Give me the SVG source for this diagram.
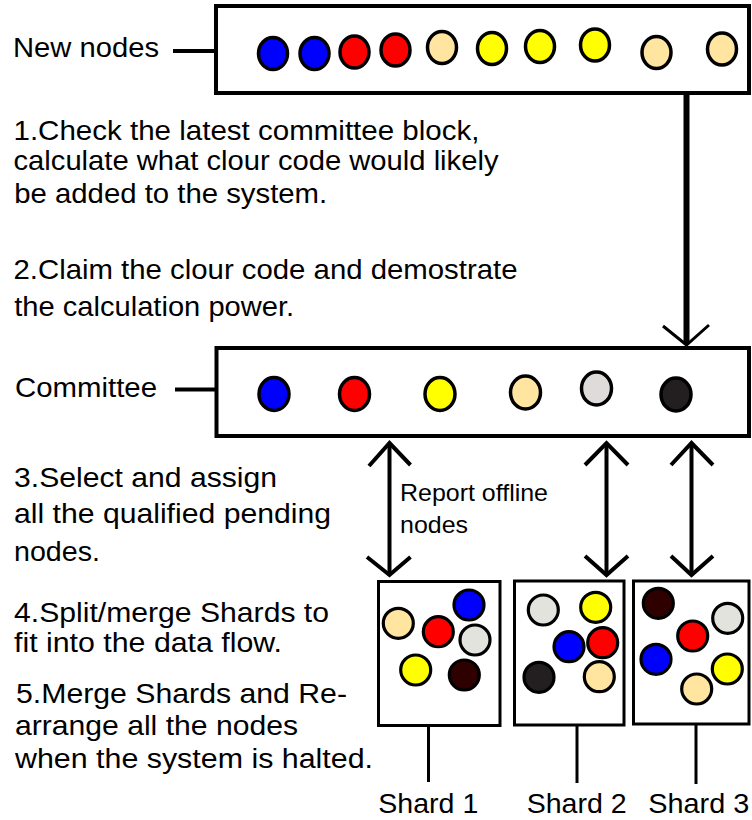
<svg xmlns="http://www.w3.org/2000/svg" width="752" height="820" viewBox="0 0 752 820">
<style>
text{font-family:"Liberation Sans",Arial,sans-serif;font-size:27.5px;fill:#000}
.box{fill:#fff;stroke:#000;stroke-width:4}
.sbox{fill:#fff;stroke:#000;stroke-width:3}
.n{stroke:#000;stroke-width:3.5}
.s{stroke:#000;stroke-width:3.2}
.line{fill:none;stroke:#000;stroke-width:4}
.thin{fill:none;stroke:#000;stroke-width:3}
.b{fill:#0000FF}.r{fill:#FF0000}.y{fill:#FFFF00}.t{fill:#FFE5A0}.g{fill:#E0DBDB}.g2{fill:#E3E3DE}.k{fill:#231F20}.kb{fill:#2E0000}
</style>
<rect width="752" height="820" fill="#fff"/>
<g id="connectors">
<line class="line" x1="173" y1="51" x2="216" y2="51"/>
<line class="line" x1="175" y1="389.5" x2="216" y2="389.5"/>
<line x1="686.5" y1="93" x2="686.5" y2="343" stroke="#000" stroke-width="6"/>
<polyline class="thin" points="663,326 686.5,345 709,325"/>
<line class="line" x1="389.5" y1="443" x2="389.5" y2="574"/>
<polyline class="line" points="369,466 389.5,443 410.5,465"/>
<polyline class="line" points="367,557 389.5,575 410.5,557"/>
<line class="line" x1="606.5" y1="443" x2="606.5" y2="574"/>
<polyline class="line" points="585,465 606.5,443 628,465"/>
<polyline class="line" points="585,556 606.5,575 628,556"/>
<line class="line" x1="691.5" y1="443" x2="691.5" y2="574"/>
<polyline class="line" points="671,465 691.5,443 713,465"/>
<polyline class="line" points="671,556 691.5,575 713,556"/>
<line class="thin" x1="428.5" y1="726" x2="428.5" y2="782"/>
<line class="thin" x1="577" y1="726" x2="577" y2="783"/>
<line class="thin" x1="696" y1="725" x2="696" y2="784"/>
<text x="400" y="501" style="font-size:24.5px" textLength="148" lengthAdjust="spacingAndGlyphs">Report offline</text>
<text x="400" y="533" style="font-size:24.5px" textLength="68" lengthAdjust="spacingAndGlyphs">nodes</text>
</g>
<g id="new-nodes">
<text x="13" y="57" style="font-size:27px" textLength="146" lengthAdjust="spacingAndGlyphs">New nodes</text>
<rect class="box" x="216" y="6" width="533" height="87"/>
<ellipse class="n b" cx="273" cy="53.5" rx="14.5" ry="16"/>
<ellipse class="n b" cx="314.5" cy="53.5" rx="14.5" ry="16"/>
<ellipse class="n r" cx="354.5" cy="52" rx="14.5" ry="16"/>
<ellipse class="n r" cx="395.5" cy="50" rx="14.5" ry="16"/>
<ellipse class="n t" cx="442" cy="47.5" rx="14.5" ry="16"/>
<ellipse class="n y" cx="492" cy="48.5" rx="14.5" ry="16"/>
<ellipse class="n y" cx="540" cy="46.5" rx="14.5" ry="16"/>
<ellipse class="n y" cx="595" cy="45" rx="14.5" ry="16"/>
<ellipse class="n t" cx="656.5" cy="52.5" rx="14.5" ry="16"/>
<ellipse class="n t" cx="722" cy="49" rx="14.5" ry="16"/>
</g>
<g id="steps">
<text x="13.5" y="140" textLength="466" lengthAdjust="spacingAndGlyphs">1.Check the latest committee block,</text>
<text x="13.5" y="169.5" textLength="485" lengthAdjust="spacingAndGlyphs">calculate what clour code would likely</text>
<text x="14.2" y="203" textLength="313" lengthAdjust="spacingAndGlyphs">be added to the system.</text>
<text x="13.5" y="279" textLength="504" lengthAdjust="spacingAndGlyphs">2.Claim the clour code and demostrate</text>
<text x="14.2" y="315.5" textLength="280" lengthAdjust="spacingAndGlyphs">the calculation power.</text>
<text x="14" y="486.5" textLength="263" lengthAdjust="spacingAndGlyphs">3.Select and assign</text>
<text x="14" y="522.5" textLength="317" lengthAdjust="spacingAndGlyphs">all the qualified pending</text>
<text x="14" y="560.5" textLength="86" lengthAdjust="spacingAndGlyphs">nodes.</text>
<text x="14" y="621.5" textLength="315" lengthAdjust="spacingAndGlyphs">4.Split/merge Shards to</text>
<text x="14" y="651.5" textLength="268" lengthAdjust="spacingAndGlyphs">fit into the data flow.</text>
<text x="16" y="703" textLength="331" lengthAdjust="spacingAndGlyphs">5.Merge Shards and Re-</text>
<text x="15" y="735" textLength="283" lengthAdjust="spacingAndGlyphs">arrange all the nodes</text>
<text x="15" y="768" textLength="358" lengthAdjust="spacingAndGlyphs">when the system is halted.</text>
</g>
<g id="committee">
<text x="15" y="396.5" textLength="142" lengthAdjust="spacingAndGlyphs">Committee</text>
<rect class="box" x="216.5" y="348" width="532.5" height="88"/>
<ellipse class="n b" cx="274" cy="394" rx="15" ry="16.5"/>
<ellipse class="n r" cx="354.5" cy="394" rx="15" ry="16.5"/>
<ellipse class="n y" cx="440" cy="394" rx="15" ry="16.5"/>
<ellipse class="n t" cx="525.5" cy="392.5" rx="15" ry="16.5"/>
<ellipse class="n g" cx="596.5" cy="388.5" rx="15" ry="16.5"/>
<ellipse class="n k" cx="676" cy="394.5" rx="15" ry="16.5"/>
</g>
<g id="shard1">
<rect class="sbox" x="378.5" y="581.5" width="121.5" height="144"/>
<circle class="s t" cx="398.3" cy="623.3" r="15"/>
<circle class="s b" cx="469" cy="605" r="15"/>
<circle class="s r" cx="438.3" cy="631.7" r="15"/>
<circle class="s g2" cx="475" cy="640" r="15"/>
<circle class="s y" cx="415.7" cy="670" r="15"/>
<circle class="s kb" cx="464.3" cy="675" r="15"/>
<text x="378.3" y="813" style="font-size:28px" textLength="100" lengthAdjust="spacingAndGlyphs">Shard 1</text>
</g>
<g id="shard2">
<rect class="sbox" x="514.5" y="581" width="109.5" height="144"/>
<circle class="s g2" cx="543.3" cy="610" r="15"/>
<circle class="s y" cx="595.7" cy="607.3" r="15"/>
<circle class="s b" cx="569" cy="646.7" r="15"/>
<circle class="s r" cx="602.7" cy="642.7" r="15"/>
<circle class="s k" cx="539" cy="677.3" r="15"/>
<circle class="s t" cx="599.3" cy="676.7" r="15"/>
<text x="526.7" y="813" style="font-size:28px" textLength="100" lengthAdjust="spacingAndGlyphs">Shard 2</text>
</g>
<g id="shard3">
<rect class="sbox" x="633.5" y="581" width="115.5" height="143"/>
<circle class="s kb" cx="658.3" cy="603.3" r="15"/>
<circle class="s g2" cx="727.7" cy="618.3" r="15"/>
<circle class="s r" cx="692.7" cy="636" r="15"/>
<circle class="s b" cx="656" cy="659.3" r="15"/>
<circle class="s y" cx="727.3" cy="669" r="15"/>
<circle class="s t" cx="696.7" cy="689" r="15"/>
<text x="648.3" y="813" style="font-size:28px" textLength="101" lengthAdjust="spacingAndGlyphs">Shard 3</text>
</g>
</svg>
